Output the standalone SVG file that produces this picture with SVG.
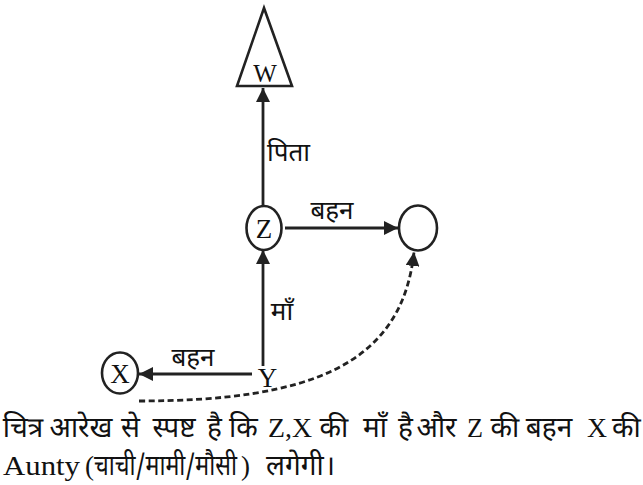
<svg xmlns="http://www.w3.org/2000/svg" width="643" height="485" viewBox="0 0 643 485">
<style>
.node{fill:#fff;stroke:#222;stroke-width:2.6}
.edge{fill:none;stroke:#222;stroke-width:2.8}
.dash{fill:none;stroke:#222;stroke-width:2.8;stroke-dasharray:6 3.5}
.lat{font-family:"Liberation Serif","Times New Roman",serif;fill:#111}
.dev{font-family:"Noto Sans Devanagari","Noto Serif Devanagari","Lohit Devanagari","Liberation Serif",serif;fill:#111}
</style>
<defs>
<marker id="ah" viewBox="0 0 10 10" refX="10" refY="5" markerWidth="5" markerHeight="5" markerUnits="strokeWidth" orient="auto">
<path d="M0,0 L10,5 L0,10 z" fill="#222"/>
</marker>
</defs>
<g id="connectors">
<line class="edge" x1="263" y1="206" x2="263" y2="88" marker-end="url(#ah)"/>
<line class="edge" x1="285" y1="228" x2="398" y2="228" marker-end="url(#ah)"/>
<line class="edge" x1="263" y1="366" x2="263" y2="250" marker-end="url(#ah)"/>
<line class="edge" x1="252" y1="374" x2="139" y2="374" marker-end="url(#ah)"/>
<path class="dash" d="M139,401 C310,401 402,365 414,252" marker-end="url(#ah)"/>
<g class="dev" font-size="26" text-anchor="middle">
<text x="288.5" y="161">पिता</text>
<text x="332" y="219">बहन</text>
<text x="282" y="320">माँ</text>
<text x="193" y="366">बहन</text>
</g>
</g>
<g id="node-W">
<polygon class="node" points="264,8 237,86 292,86" stroke-linejoin="miter"/>
<text class="lat" x="265" y="82" font-size="25" text-anchor="middle">W</text>
</g>
<g id="node-Z">
<ellipse class="node" cx="264" cy="228" rx="17.5" ry="22"/>
<text class="lat" x="264" y="238" font-size="27" text-anchor="middle">Z</text>
</g>
<g id="node-blank">
<ellipse class="node" cx="418" cy="228" rx="19" ry="22.5"/>
</g>
<g id="node-X">
<ellipse class="node" cx="120" cy="373" rx="18" ry="20.5"/>
<text class="lat" x="120" y="383" font-size="27" text-anchor="middle">X</text>
</g>
<g id="node-Y">
<text class="lat" x="267.5" y="387" font-size="27" text-anchor="middle">Y</text>
</g>
<g id="caption">
<g class="dev" font-size="28" text-anchor="middle">
<text x="23" y="437">चित्र</text>
<text x="81" y="437">आरेख</text>
<text x="130.5" y="437">से</text>
<text x="174" y="437">स्पष्ट</text>
<text x="214.5" y="437">है</text>
<text x="243.5" y="437">कि</text>
<text x="334" y="437">की</text>
<text x="375" y="437">माँ</text>
<text x="405.5" y="437">है</text>
<text x="436.5" y="437">और</text>
<text x="505" y="437">की</text>
<text x="549" y="437">बहन</text>
<text x="626.5" y="437">की</text>
<text x="295" y="475">लगेगी</text>
<text x="329.5" y="475">।</text>
</g>
<text class="dev" font-size="28" x="94" y="475" textLength="143" lengthAdjust="spacingAndGlyphs">चाची/मामी/मौसी</text>
<g class="lat" font-size="27">
<text x="268" y="437" textLength="44" lengthAdjust="spacingAndGlyphs">Z,X</text>
<text x="467" y="437" textLength="16" lengthAdjust="spacingAndGlyphs">Z</text>
<text x="587" y="437" textLength="20" lengthAdjust="spacingAndGlyphs">X</text>
<text x="3" y="475" textLength="77" lengthAdjust="spacingAndGlyphs">Aunty</text>
<text x="85" y="475">(</text>
<text x="241" y="475">)</text>
</g>
</g>
</svg>
